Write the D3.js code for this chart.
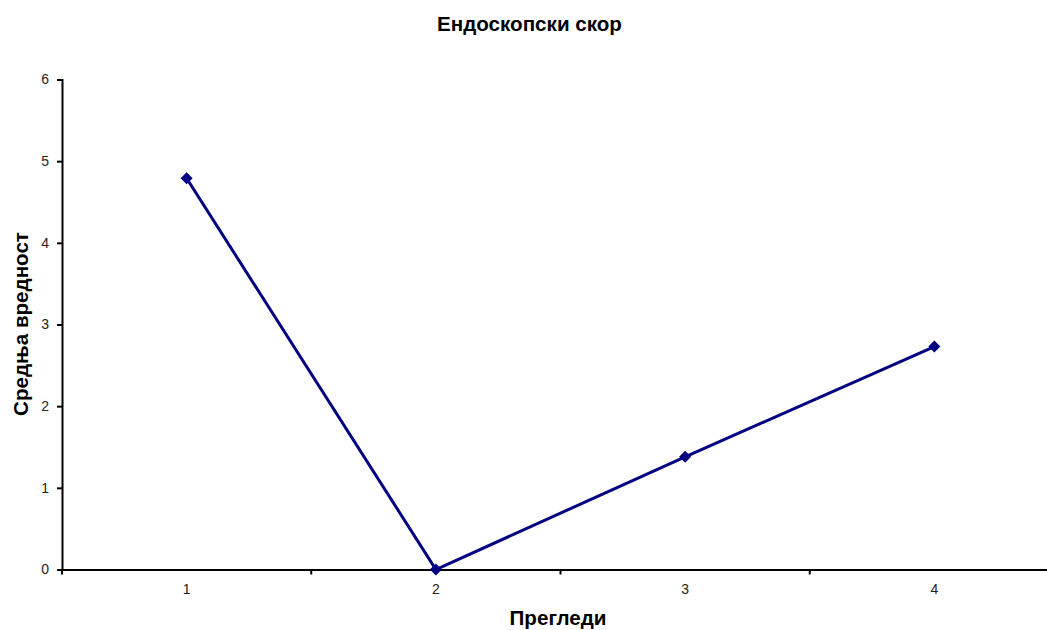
<!DOCTYPE html>
<html>
<head>
<meta charset="utf-8">
<script src="https://cdn.jsdelivr.net/npm/d3@7"></script>
<style>
  html, body { margin: 0; padding: 0; background: #fff; }
  svg { display: block; font-family: "Liberation Sans", Arial, sans-serif; }
</style>
</head>
<body>
<svg id="chart" width="1047" height="630"></svg>
<script>
// Examination rounds and mean endoscopic score
const categories = ["1", "2", "3", "4"];
const meanScores = [4.79, 0, 1.38, 2.73];
const yTicks = [0, 1, 2, 3, 4, 5, 6];

const titleText = "Ендоскопски скор";
const xTitle = "Прегледи";
const yTitle = "Средња вредност";

const svg = d3.select("#chart");
const plotLeft = 62, plotRight = 1059, plotTop = 79.5, plotBottom = 569.5;
const lineColor = "#000080";
const tickFont = 14, titleFont = 20.6;

const x = d3.scaleBand().domain(categories).range([plotLeft, plotRight]);
const y = d3.scaleLinear().domain([0, 6]).range([plotBottom, plotTop]);

// Y axis
const yAxis = svg.append("g")
  .attr("transform", `translate(${plotLeft},0)`)
  .attr("font-size", tickFont)
  .call(d3.axisLeft(y).tickValues(yTicks).tickSize(5).tickPadding(8).tickFormat(d3.format("d")));
yAxis.select(".domain").attr("stroke", "#000").attr("stroke-width", 2);
yAxis.selectAll(".tick line").attr("stroke", "#000").attr("stroke-width", 2);
yAxis.selectAll(".tick text").attr("font-size", tickFont).attr("fill", "#222")
  .attr("font-family", "Liberation Sans, Arial, sans-serif");

// X axis: category labels centred in bands, ticks at band boundaries
const xAxis = svg.append("g")
  .attr("transform", `translate(0,${plotBottom})`)
  .attr("font-size", tickFont)
  .call(d3.axisBottom(x).tickSize(0).tickPadding(15));
xAxis.select(".domain").attr("stroke", "#000").attr("stroke-width", 2);
xAxis.selectAll(".tick text").attr("font-size", tickFont).attr("fill", "#222")
  .attr("font-family", "Liberation Sans, Arial, sans-serif");

const boundaries = categories.map(c => x(c)).concat([x(categories[categories.length - 1]) + x.bandwidth()]);
svg.append("g").selectAll("line")
  .data(boundaries)
  .join("line")
  .attr("x1", d => d).attr("x2", d => d)
  .attr("y1", plotBottom).attr("y2", plotBottom + 5)
  .attr("stroke", "#000").attr("stroke-width", 2);

// Series line
const line = d3.line()
  .x((d, i) => x(categories[i]) + x.bandwidth() / 2)
  .y(d => y(d));

svg.append("path")
  .datum(meanScores)
  .attr("d", line)
  .attr("fill", "none")
  .attr("stroke", lineColor)
  .attr("stroke-width", 3);

// Diamond markers
const diamond = d3.symbol().type(d3.symbolSquare).size(72);
svg.append("g").selectAll("path")
  .data(meanScores)
  .join("path")
  .attr("d", diamond)
  .attr("transform", (d, i) => `translate(${x(categories[i]) + x.bandwidth() / 2},${y(d)}) rotate(45)`)
  .attr("fill", lineColor);

// Titles
svg.append("text")
  .attr("x", 529.5).attr("y", 31)
  .attr("text-anchor", "middle")
  .attr("font-size", titleFont).attr("font-weight", "bold").attr("fill", "#000")
  .text(titleText);

svg.append("text")
  .attr("x", 558).attr("y", 625)
  .attr("text-anchor", "middle")
  .attr("font-size", titleFont).attr("font-weight", "bold").attr("fill", "#000")
  .text(xTitle);

svg.append("text")
  .attr("transform", "translate(28,324) rotate(-90)")
  .attr("text-anchor", "middle")
  .attr("font-size", titleFont).attr("font-weight", "bold").attr("fill", "#000")
  .text(yTitle);
</script>
</body>
</html>
